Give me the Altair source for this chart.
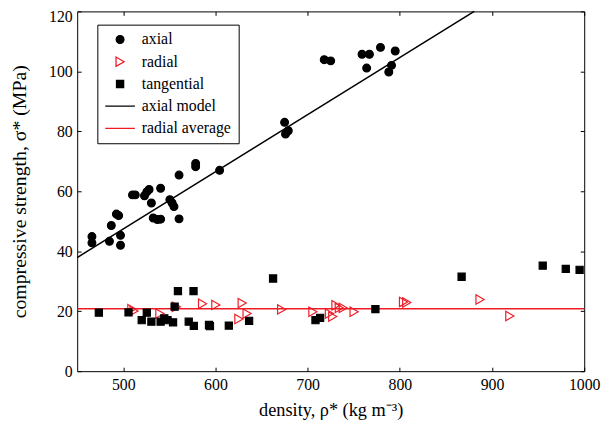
import altair as alt
import pandas as pd

# ---------------- data ----------------
axial_x = [466, 466, 485, 487, 492.5, 495, 497, 497, 510, 513, 523, 525.5, 528,
           530.5, 532.5, 537, 540.5, 540.5, 550.5, 553, 555, 560.5, 560.5,
           578.5, 578.5, 604.5, 675, 679, 676, 718, 725, 759, 767, 764, 779,
           795, 791, 788]
axial_y = [44.9, 42.8, 43.3, 48.6, 52.4, 51.9, 45.3, 42.0, 58.8, 58.8, 58.5, 59.8, 60.6,
           56.1, 51.1, 50.6, 50.7, 61.0, 57.2, 56.1, 54.9, 50.8, 65.4,
           69.3, 68.2, 67.0, 83.0, 80.2, 79.1, 103.9, 103.5, 105.7, 105.7, 101.1, 108.0,
           106.8, 102.0, 99.8]

radial_x = [509.3, 511.7, 539.7, 557.5, 586, 600.4, 629, 625.4, 634.3, 671.8,
            705.7, 723.6, 727.2, 730.7, 734.3, 738.6, 750.4, 804, 807.5, 887, 919.3]
radial_y = [20.7, 20.1, 19.2, 21.5, 22.5, 22.1, 22.7, 17.4, 19.2, 20.6,
            19.8, 19.2, 18.2, 22.0, 21.1, 21.1, 19.8, 23.1, 22.9, 23.9, 18.4]

tang_x = [473.5, 505.7, 520, 525.5, 530.5, 540.5, 544.5, 548, 554, 555.7, 559.3,
          571, 576.2, 576.5, 593, 594, 614.5, 636.5, 662.5, 708.5, 713.5, 773.5,
          867, 955, 980, 995]
tang_y = [19.5, 19.6, 17.0, 19.5, 16.5, 16.5, 17.6, 17.0, 16.3, 21.5, 26.7,
          16.5, 26.7, 15.1, 15.4, 15.0, 15.2, 16.8, 30.9, 17.0, 17.8, 20.7,
          31.5, 35.2, 34.1, 33.8]

model_x = [450, 880.7]
model_y = [37.9, 120.0]
avg_x = [450, 1000]
avg_y = [20.8, 20.8]

x_ticks = [500, 600, 700, 800, 900, 1000]
y_ticks = [0, 20, 40, 60, 80, 100, 120]

series_names = ["axial", "radial", "tangential", "axial model", "radial average"]
RED = "#ee1c25"
series_stroke = ["black", RED, "black", "black", RED]
series_fill = ["black", "transparent", "black", "transparent", "transparent"]
series_shape = ["circle", "triangle-right", "square", "stroke", "stroke"]
series_size = [62, 90, 52, 900, 900]

# ---------------- tables ----------------
df_pts = pd.concat([
    pd.DataFrame({"x": axial_x, "y": axial_y, "series": "axial"}),
    pd.DataFrame({"x": radial_x, "y": radial_y, "series": "radial"}),
    pd.DataFrame({"x": tang_x, "y": tang_y, "series": "tangential"}),
], ignore_index=True)

df_lines = pd.concat([
    pd.DataFrame({"x": model_x, "y": model_y, "series": "axial model"}),
    pd.DataFrame({"x": avg_x, "y": avg_y, "series": "radial average"}),
], ignore_index=True)

xs = alt.Scale(domain=[450, 1000], nice=False, zero=False)
ys = alt.Scale(domain=[0, 120], nice=False, zero=False)

stroke_scale = alt.Scale(domain=series_names, range=series_stroke)
fill_scale = alt.Scale(domain=series_names, range=series_fill)
shape_scale = alt.Scale(domain=series_names, range=series_shape)
size_scale = alt.Scale(type="ordinal", domain=series_names, range=series_size)

leg = alt.Legend(orient="none", legendX=20.4, legendY=13.4, clipHeight=16,
                 labelExpr="datum.label + '\u00a0\u00a0\u00a0\u00a0'")

top_label_shift = {"condition": {"test": "datum.value == 120", "value": 5}, "value": 0}

lines = alt.Chart(df_lines).mark_line(strokeWidth=1.5).encode(
    x=alt.X("x:Q", scale=xs,
            axis=alt.Axis(orient="bottom", values=x_ticks, offset=-4, labelPadding=6,
                          labelFlush=False, labelOverlap=False, format="d",
                          title="density, ρ* (kg m⁻³)", titlePadding=8,
                          titleFontSize=18.5)),
    y=alt.Y("y:Q", scale=ys,
            axis=alt.Axis(orient="left", values=y_ticks, offset=-4, labelPadding=5,
                          labelFlush=False, labelOverlap=False, format="d",
                          labelOffset=top_label_shift,
                          title="compressive strength, σ* (MPa)", titlePadding=19,
                          titleFontSize=20)),
    stroke=alt.Stroke("series:N", scale=stroke_scale, legend=leg, title=None),
)

points = alt.Chart(df_pts).mark_point(filled=True, opacity=1, strokeWidth=1.2).encode(
    x=alt.X("x:Q", scale=xs,
            axis=alt.Axis(orient="top", values=x_ticks, offset=-4, labels=False, title=None)),
    y=alt.Y("y:Q", scale=ys,
            axis=alt.Axis(orient="right", values=y_ticks, offset=-4, labels=False, title=None)),
    shape=alt.Shape("series:N", scale=shape_scale, legend=leg, title=None),
    fill=alt.Fill("series:N", scale=fill_scale, legend=leg, title=None),
    stroke=alt.Stroke("series:N", scale=stroke_scale, legend=leg, title=None),
    size=alt.Size("series:N", scale=size_scale, legend=leg, title=None),
)

chart = alt.layer(lines, points).resolve_axis(
    x="independent", y="independent"
).properties(
    width=513, height=364,
    autosize=alt.AutoSizeParams(type="none"),
    padding={"left": 70, "top": 1, "right": 18, "bottom": 50},
    background="white",
).configure_view(
    stroke="black", strokeWidth=1
).configure_axis(
    grid=False, domain=False, tickSize=4, tickWidth=1, tickColor="black",
    labelFont="Liberation Serif", labelFontSize=16, labelColor="black",
    titleFont="Liberation Serif", titleFontSize=18, titleFontWeight="normal",
    titleColor="black",
).configure_legend(
    labelFont="Liberation Serif", labelFontSize=16, labelColor="black",
    strokeColor="black", fillColor="white", padding=7, labelOffset=6,
    rowPadding=6.5, symbolStrokeWidth=1.3,
)

chart.save("out.html", embed_options={"renderer": "svg", "actions": False})
